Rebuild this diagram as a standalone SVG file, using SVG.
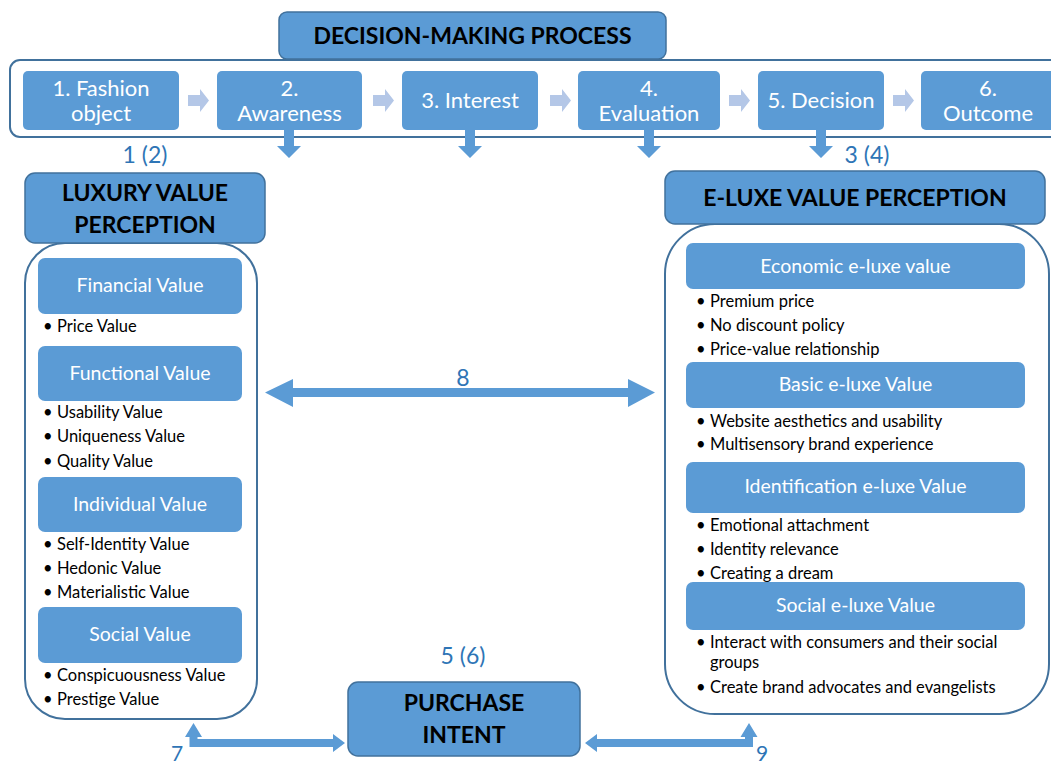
<svg xmlns="http://www.w3.org/2000/svg" width="1051" height="766" viewBox="0 0 1051 766">
<style>
text{font-family:Lato,"Liberation Sans",sans-serif}
.hdr{fill:#5B9BD5;stroke:#41719C;stroke-width:1.5}
.step{fill:#5B9BD5}
.inner{fill:#5B9BD5}
.panel{fill:#fff;stroke:#41719C;stroke-width:2}
.ht{font-size:23px;font-weight:bold;fill:#000;text-anchor:middle}
.st{font-size:22px;fill:#fff;text-anchor:middle}
.it{font-size:19.5px;fill:#fff;text-anchor:middle}
.bt{font-size:16.5px;fill:#000}
.num{font-size:23px;fill:#2E75B6;text-anchor:middle}
.arr{fill:#5B9BD5}
.chev{fill:#B4C7E7}
</style>
<rect width="1051" height="766" fill="#fff"/>

<g id="process-frame">
<rect x="10" y="60" width="1060" height="77" rx="10" class="panel"/>
</g>
<g id="title">
<rect x="279" y="12" width="387" height="47" rx="8" class="hdr"/>
<text x="472.5" y="44" class="ht">DECISION-MAKING PROCESS</text>
</g>

<g id="step1"><rect x="23" y="71" width="156" height="59" rx="5" class="step"/>
<text x="101" y="96" class="st">1. Fashion</text><text x="101" y="121" class="st">object</text></g>
<g id="step2"><rect x="217" y="71" width="145" height="59" rx="5" class="step"/>
<text x="289.5" y="96" class="st">2.</text><text x="289.5" y="121" class="st">Awareness</text></g>
<g id="step3"><rect x="402" y="71" width="136" height="59" rx="5" class="step"/>
<text x="470" y="108" class="st">3. Interest</text></g>
<g id="step4"><rect x="578" y="71" width="142" height="59" rx="5" class="step"/>
<text x="649" y="96" class="st">4.</text><text x="649" y="121" class="st">Evaluation</text></g>
<g id="step5"><rect x="758" y="71" width="126" height="59" rx="5" class="step"/>
<text x="821" y="108" class="st">5. Decision</text></g>
<g id="step6"><rect x="921" y="71" width="140" height="59" rx="5" class="step"/>
<text x="988" y="96" class="st">6.</text><text x="988" y="121" class="st">Outcome</text></g>

<g id="luxury-panel">
<rect x="25" y="243" width="232" height="476" rx="40" class="panel"/>
<rect x="25" y="173" width="240" height="70" rx="10" class="hdr"/>
<text x="145" y="201" class="ht">LUXURY VALUE</text>
<text x="145" y="233" class="ht">PERCEPTION</text>
<rect x="38" y="258" width="204" height="56" rx="7" class="inner"/>
<text x="140" y="292" class="it">Financial Value</text>
<text class="bt" y="332"><tspan x="43">•</tspan><tspan x="57">Price Value</tspan></text>
<rect x="38" y="346" width="204" height="55" rx="7" class="inner"/>
<text x="140" y="380" class="it">Functional Value</text>
<text class="bt" y="418"><tspan x="43">•</tspan><tspan x="57">Usability Value</tspan></text>
<text class="bt" y="442"><tspan x="43">•</tspan><tspan x="57">Uniqueness Value</tspan></text>
<text class="bt" y="467"><tspan x="43">•</tspan><tspan x="57">Quality Value</tspan></text>
<rect x="38" y="477" width="204" height="55" rx="7" class="inner"/>
<text x="140" y="511" class="it">Individual Value</text>
<text class="bt" y="550"><tspan x="43">•</tspan><tspan x="57">Self-Identity Value</tspan></text>
<text class="bt" y="574"><tspan x="43">•</tspan><tspan x="57">Hedonic Value</tspan></text>
<text class="bt" y="598"><tspan x="43">•</tspan><tspan x="57">Materialistic Value</tspan></text>
<rect x="38" y="607" width="204" height="56" rx="7" class="inner"/>
<text x="140" y="641" class="it">Social Value</text>
<text class="bt" y="681"><tspan x="43">•</tspan><tspan x="57">Conspicuousness Value</tspan></text>
<text class="bt" y="705"><tspan x="43">•</tspan><tspan x="57">Prestige Value</tspan></text>
</g>

<g id="eluxe-panel">
<rect x="665" y="224" width="384" height="490" rx="50" class="panel"/>
<rect x="665" y="171" width="380" height="53" rx="10" class="hdr"/>
<text x="855" y="206" class="ht">E-LUXE VALUE PERCEPTION</text>
<rect x="686" y="243" width="339" height="46" rx="7" class="inner"/>
<text x="855.5" y="273" class="it">Economic e-luxe value</text>
<text class="bt" y="307"><tspan x="696">•</tspan><tspan x="710">Premium price</tspan></text>
<text class="bt" y="331"><tspan x="696">•</tspan><tspan x="710">No discount policy</tspan></text>
<text class="bt" y="355"><tspan x="696">•</tspan><tspan x="710">Price-value relationship</tspan></text>
<rect x="686" y="362" width="339" height="46" rx="7" class="inner"/>
<text x="855.5" y="391" class="it">Basic e-luxe Value</text>
<text class="bt" y="427"><tspan x="696">•</tspan><tspan x="710">Website aesthetics and usability</tspan></text>
<text class="bt" y="450"><tspan x="696">•</tspan><tspan x="710">Multisensory brand experience</tspan></text>
<rect x="686" y="462" width="339" height="51" rx="7" class="inner"/>
<text x="855.5" y="493" class="it">Identification e-luxe Value</text>
<text class="bt" y="531"><tspan x="696">•</tspan><tspan x="710">Emotional attachment</tspan></text>
<text class="bt" y="555"><tspan x="696">•</tspan><tspan x="710">Identity relevance</tspan></text>
<text class="bt" y="579"><tspan x="696">•</tspan><tspan x="710">Creating a dream</tspan></text>
<rect x="686" y="582" width="339" height="48" rx="7" class="inner"/>
<text x="855.5" y="612" class="it">Social e-luxe Value</text>
<text class="bt" y="648"><tspan x="696">•</tspan><tspan x="710">Interact with consumers and their social</tspan></text>
<text class="bt" y="668"><tspan x="710">groups</tspan></text>
<text class="bt" y="693"><tspan x="696">•</tspan><tspan x="710">Create brand advocates and evangelists</tspan></text>
</g>

<g id="purchase-intent">
<rect x="348" y="682" width="232" height="74" rx="10" class="hdr"/>
<text x="464" y="711" class="ht">PURCHASE</text>
<text x="464" y="743" class="ht">INTENT</text>
</g>

<g id="connectors">
<path class="chev" d="M188 95H200V89L209 100.5 200 112V106H188Z"/>
<path class="chev" d="M373 95H385V89L394 100.5 385 112V106H373Z"/>
<path class="chev" d="M550 95H562V89L571 100.5 562 112V106H550Z"/>
<path class="chev" d="M729 95H741V89L750 100.5 741 112V106H729Z"/>
<path class="chev" d="M893 95H905V89L914 100.5 905 112V106H893Z"/>
<path class="arr" d="M284 130H294V146H301L289 158 277 146H284Z"/>
<path class="arr" d="M465 130H475V146H482L470 158 458 146H465Z"/>
<path class="arr" d="M644 130H654V146H661L649 158 637 146H644Z"/>
<path class="arr" d="M816 130H826V146H833L821 158 809 146H816Z"/>
<path class="arr" d="M265 392.5L293 379V388H628V379L655 392.5 628 407V397H293V407Z"/>
<path class="arr" d="M193.5 723L202 737H197.5V739H333V734L345 743 333 752V747H189.5V737H185Z"/>
<path class="arr" d="M749 723L757.5 737H753V747H597V752L585 743 597 734V739H745V737H740.5Z"/>
<text x="145" y="163" class="num">1 (2)</text>
<text x="867" y="163" class="num">3 (4)</text>
<text x="463" y="386" class="num">8</text>
<text x="463" y="664" class="num">5 (6)</text>
<text x="177" y="761" class="num" style="font-size:21px">7</text>
<text x="762" y="761" class="num" style="font-size:21px">9</text>
</g>
</svg>
